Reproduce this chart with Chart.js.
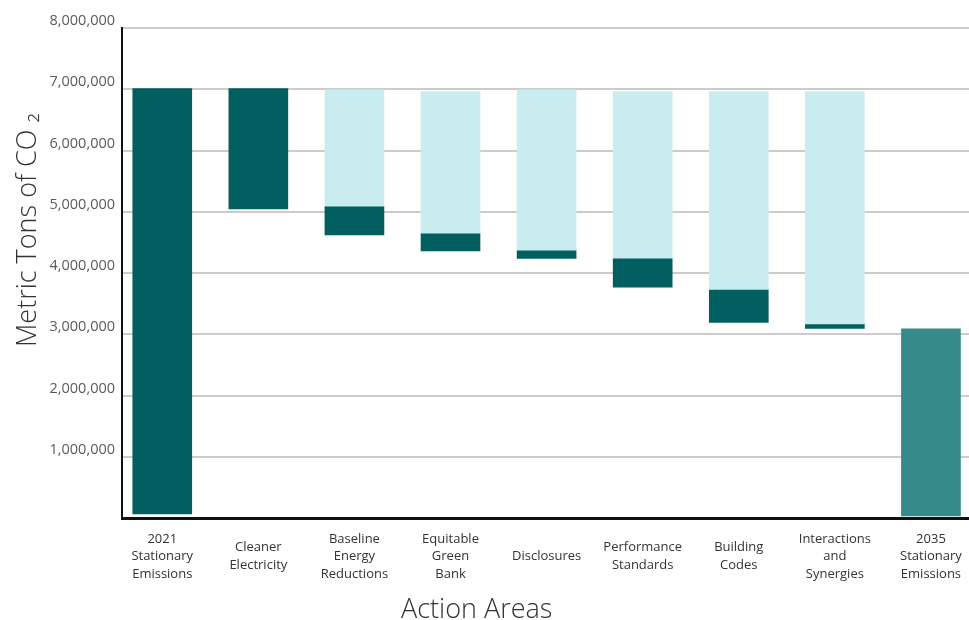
<!DOCTYPE html>
<html lang="en">
<head>
    <meta charset="UTF-8">
    <title>Stationary Emissions by Action Area</title>
    <script src="https://cdn.jsdelivr.net/npm/chart.js"></script>
    <style>
        body {
            margin: 0;
            background-color: #fff;
        }
        .wrap {
            width: 969px;
            height: 620px;
        }
    </style>
</head>
<body>
    <div class="wrap">
        <canvas id="waterfall" width="969" height="620"></canvas>
    </div>

    <script>
        // Categories (multi-line labels)
        const categories = [
            ['2021', 'Stationary', 'Emissions'],
            ['Cleaner', 'Electricity'],
            ['Baseline', 'Energy', 'Reductions'],
            ['Equitable', 'Green', 'Bank'],
            'Disclosures',
            ['Performance', 'Standards'],
            ['Building', 'Codes'],
            ['Interactions', 'and', 'Synergies'],
            ['2035', 'Stationary', 'Emissions']
        ];

        // Dark segment of each bar (top / bottom, metric tons)
        const barTop    = [7010000, 7010000, 5080000, 4640000, 4360000, 4230000, 3720000, 3156000, 3090000];
        const barBottom = [65000,   5045000, 4620000, 4360000, 4240000, 3770000, 3195000, 3097000, 33000];
        // Light backdrop above the reduction segments (null = none)
        const backdropTop = [null, null, 6990000, 6960000, 6990000, 6960000, 6960000, 6960000, null];

        const yTicks = [0, 1000000, 2000000, 3000000, 4000000, 5000000, 6000000, 7000000, 8000000];
        const xTitle = 'Action Areas';
        const yTitle = 'Metric Tons of CO \u2082';

        const darkColor = '#015f5f';
        const finalColor = '#378a8a';
        const lightColor = '#c9ecee';
        const lastIndex = categories.length - 1;

        // Build datasets from the arrays above
        const lightData = [];
        backdropTop.forEach((top, i) => {
            if (top !== null) lightData.push({ x: i, y: [barTop[i], top] });
        });
        const darkData = [];
        const darkColors = [];
        barTop.forEach((top, i) => {
            darkData.push({ x: i, y: [barBottom[i], top] });
            darkColors.push(i === lastIndex ? finalColor : darkColor);
        });

        // Axis titles drawn at the spots they sit in the original
        const axisTitles = {
            id: 'axisTitles',
            afterDraw(chart) {
                const ctx = chart.ctx;
                ctx.save();
                ctx.fillStyle = '#333';
                ctx.font = '300 27px "Open Sans"';
                ctx.textAlign = 'left';
                ctx.textBaseline = 'alphabetic';
                ctx.fillText(xTitle, 401, 618);
                ctx.translate(36, 347);
                ctx.rotate(-Math.PI / 2);
                ctx.fillText(yTitle, 0, 0);
                ctx.restore();
            }
        };

        new Chart(document.getElementById('waterfall'), {
            type: 'bar',
            data: {
                datasets: [{
                    label: 'Backdrop',
                    data: lightData,
                    backgroundColor: lightColor,
                    order: 2
                }, {
                    label: 'Emissions',
                    data: darkData,
                    backgroundColor: darkColors,
                    order: 1
                }]
            },
            options: {
                responsive: false,
                animation: false,
                grouped: false,
                barThickness: 59,
                layout: {
                    padding: { top: 28, right: 0, bottom: 0, left: 0 }
                },
                plugins: {
                    legend: { display: false },
                    tooltip: { enabled: false }
                },
                scales: {
                    x: {
                        type: 'linear',
                        offset: false,
                        min: -0.419,
                        max: 8.396,
                        grid: { display: false, drawTicks: false },
                        border: { display: true, color: '#111', width: 3 },
                        afterBuildTicks(scale) {
                            scale.ticks = categories.map((c, i) => ({ value: i }));
                        },
                        afterFit(scale) {
                            scale.height = 102;
                            scale.paddingLeft = 0;
                            scale.paddingRight = 0;
                        },
                        ticks: {
                            autoSkip: false,
                            maxRotation: 0,
                            padding: 21,
                            crossAlign: 'center',
                            color: '#333',
                            font: { family: '"Open Sans"', size: 13, lineHeight: 1.35 },
                            callback: (value) => categories[value]
                        }
                    },
                    y: {
                        min: 0,
                        max: 8000000,
                        grid: {
                            drawTicks: false,
                            lineWidth: 2,
                            color: (ctx) => ctx.tick && ctx.tick.value === 0 ? 'rgba(0,0,0,0)' : '#cccccc'
                        },
                        border: { display: true, color: '#111', width: 2 },
                        afterBuildTicks(scale) {
                            scale.ticks = yTicks.map(v => ({ value: v }));
                        },
                        afterFit(scale) {
                            scale.width = 122;
                            scale.paddingTop = 0;
                            scale.paddingBottom = 0;
                        },
                        ticks: {
                            padding: 7,
                            labelOffset: -7,
                            color: '#5a5a5a',
                            font: { family: '"Open Sans"', size: 14.5 },
                            callback: (value) => value === 0 ? '' : value.toLocaleString('en-US')
                        }
                    }
                }
            },
            plugins: [axisTitles]
        });
    </script>
</body>
</html>
